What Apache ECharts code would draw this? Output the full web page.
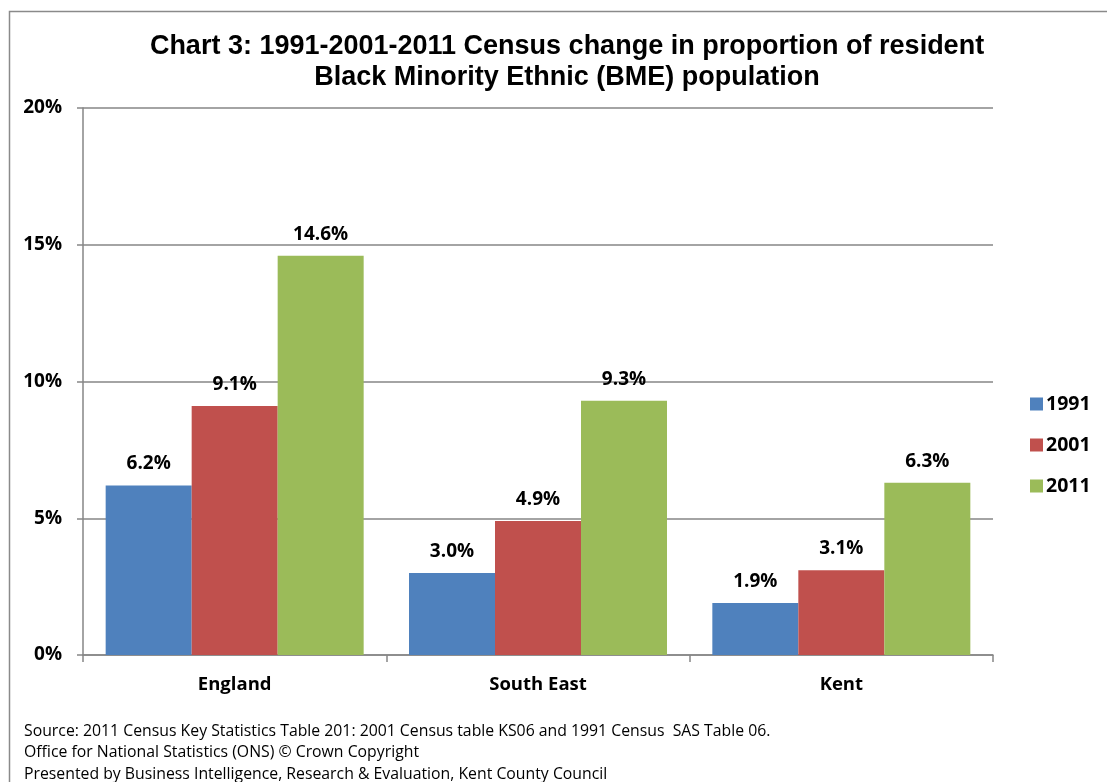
<!DOCTYPE html>
<html><head><meta charset="utf-8">
<script src="https://cdn.jsdelivr.net/npm/echarts@6/dist/echarts.min.js"></script>
<style>html,body{margin:0;padding:0;background:#fff}#c{width:1107px;height:782px}</style>
</head><body><div id="c"></div>
<script>
const categories = ['England', 'South East', 'Kent'];
const seriesNames = ['1991', '2001', '2011'];
const values1991 = [6.2, 3.0, 1.9];
const values2001 = [9.1, 4.9, 3.1];
const values2011 = [14.6, 9.3, 6.3];
const yTicks = [0, 5, 10, 15, 20];
const titleLines = ['Chart 3: 1991-2001-2011 Census change in proportion of resident', 'Black Minority Ethnic (BME) population'];
const notes = ['Source: 2011 Census Key Statistics Table 201: 2001 Census table KS06 and 1991 Census  SAS Table 06.',
  'Office for National Statistics (ONS) \u00A9 Crown Copyright',
  'Presented by Business Intelligence, Research & Evaluation, Kent County Council'];
const colors = ['#4F81BD', '#C0504D', '#9BBB59'];
const allValues = [values1991, values2001, values2011];

const chart = echarts.init(document.getElementById('c'), null, {renderer: 'canvas'});
const labelFont = '"Open Sans", Lato, sans-serif';
chart.setOption({
  animation: false,
  backgroundColor: '#fff',
  title: {
    text: titleLines.join('\n'), left: 562, top: 26, textAlign: 'center',
    textStyle: {fontFamily: '"Liberation Sans", Arial, sans-serif', fontWeight: 'bold', fontSize: 27, lineHeight: 31, color: '#000'}
  },
  legend: {
    orient: 'vertical', left: 1025, top: 389, itemWidth: 13, itemHeight: 13, itemGap: 21, icon: 'rect',
    data: seriesNames,
    textStyle: {fontFamily: labelFont, fontWeight: 'bold', fontSize: 19.5, color: '#000', padding: [0, 0, 0, -2]}
  },
  grid: {left: 83, right: 114, top: 108, bottom: 127},
  xAxis: {
    type: 'category', data: categories,
    axisLine: {lineStyle: {color: '#868686', width: 1.5}},
    axisTick: {show: true, length: 7, lineStyle: {color: '#868686', width: 1.5}},
    axisLabel: {margin: 20, fontFamily: labelFont, fontWeight: 'bold', fontSize: 18.5, color: '#000'}
  },
  yAxis: {
    type: 'value', min: yTicks[0], max: yTicks[yTicks.length - 1], interval: 5,
    axisLine: {show: true, lineStyle: {color: '#868686', width: 1.5}},
    axisTick: {show: true, length: 6, lineStyle: {color: '#868686', width: 1.5}},
    splitLine: {lineStyle: {color: '#868686', width: 1.5}},
    axisLabel: {margin: 21, formatter: '{value}%', fontFamily: labelFont, fontWeight: 'bold', fontSize: 19, color: '#000'}
  },
  series: seriesNames.map((n, i) => ({
    name: n, type: 'bar', data: allValues[i], barWidth: 86, barGap: '0%',
    itemStyle: {color: colors[i]},
    label: {show: true, position: 'top', distance: 12, formatter: p => p.value.toFixed(1) + '%',
      fontFamily: labelFont, fontWeight: 'bold', fontSize: 19, color: '#000'}
  })),
  graphic: [
    {type: 'rect', shape: {x: 9.5, y: 11.5, width: 1200, height: 900}, style: {fill: 'none', stroke: '#8a8a8a', lineWidth: 1.5}, silent: true},
    ...notes.map((t, i) => ({type: 'text', left: 24, top: 723 + i * 21.5,
      style: {text: t, font: '15.8px "Open Sans", Lato, sans-serif', fill: '#000'}}))
  ]
});
</script></body></html>
